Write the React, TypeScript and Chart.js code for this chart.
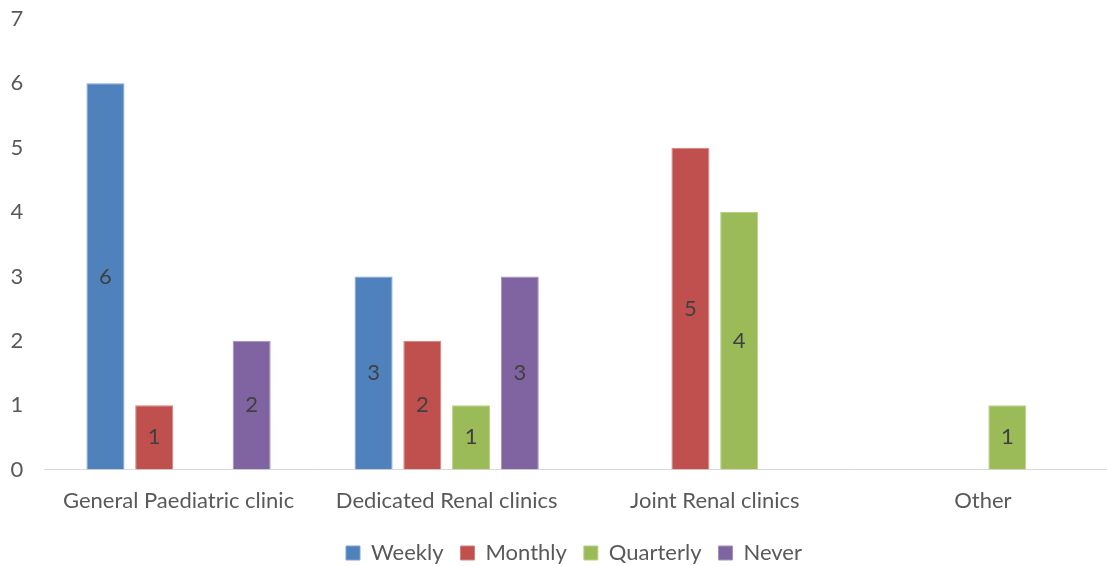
import React, { useEffect, useRef } from "react";
import { Chart, registerables, Plugin } from "chart.js";

Chart.register(...registerables);

const categories = [
  "General Paediatric clinic",
  "Dedicated Renal clinics",
  "Joint Renal clinics",
  "Other",
];

const weekly: (number | null)[] = [6, 3, null, null];
const monthly: (number | null)[] = [1, 2, 5, null];
const quarterly: (number | null)[] = [null, 1, 4, 1];
const never: (number | null)[] = [2, 3, null, null];

const yMin = 0;
const yMax = 7;
const yStep = 1;

const FONT = "Lato, 'Open Sans', sans-serif";
const FONT_SIZE = 22;

// Writes each bar's value in the middle of the bar
const barValueLabels: Plugin<"bar"> = {
  id: "barValueLabels",
  afterDatasetsDraw(chart) {
    const ctx = chart.ctx;
    ctx.save();
    ctx.font = `${FONT_SIZE}px ${FONT}`;
    ctx.fillStyle = "#404040";
    ctx.textAlign = "center";
    ctx.textBaseline = "middle";
    chart.data.datasets.forEach((ds, di) => {
      const meta = chart.getDatasetMeta(di);
      if (meta.hidden) return;
      meta.data.forEach((el: any, i) => {
        const v = ds.data[i] as number | null;
        if (v === null || v === undefined) return;
        const { x, y, base } = el.getProps(["x", "y", "base"], true);
        ctx.fillText(String(v), x, (y + base) / 2);
      });
    });
    ctx.restore();
  },
};

function series(label: string, data: (number | null)[], fill: string, edge: string) {
  return {
    label,
    data,
    backgroundColor: fill,
    borderColor: edge,
    borderWidth: 1,
    categoryPercentage: 0.727,
    barPercentage: 0.78,
  };
}

export default function App() {
  const canvasRef = useRef<HTMLCanvasElement | null>(null);

  useEffect(() => {
    if (!canvasRef.current) return;
    const chart = new Chart(canvasRef.current, {
      type: "bar",
      data: {
        labels: categories,
        datasets: [
          series("Weekly", weekly, "#4F81BD", "#7fa3d1"),
          series("Monthly", monthly, "#C0504D", "#d4817e"),
          series("Quarterly", quarterly, "#9BBB59", "#b8d186"),
          series("Never", never, "#8064A2", "#a390bd"),
        ],
      },
      options: {
        responsive: false,
        animation: false,
        layout: { padding: { left: 31, top: 19, right: 0, bottom: 0 } },
        plugins: {
          tooltip: { enabled: false },
          legend: {
            position: "bottom",
            labels: {
              boxWidth: 14,
              boxHeight: 14,
              padding: 17,
              color: "#595959",
              font: { family: FONT, size: FONT_SIZE },
            },
          },
        },
        scales: {
          x: {
            grid: { display: false, drawTicks: false },
            border: { display: true, color: "#D9D9D9", width: 1 },
            ticks: {
              color: "#595959",
              font: { family: FONT, size: FONT_SIZE },
              padding: 18,
              maxRotation: 0,
              autoSkip: false,
            },
            afterFit(scale) {
              scale.height = 55.5;
            },
          },
          y: {
            min: yMin,
            max: yMax,
            grid: { display: false, drawTicks: false },
            border: { display: false },
            ticks: {
              stepSize: yStep,
              color: "#595959",
              font: { family: FONT, size: FONT_SIZE },
              mirror: true,
              padding: -34,
            },
            afterFit(scale) {
              scale.width = 13.5;
              scale.paddingTop = 0;
              scale.paddingBottom = 0;
            },
          },
        },
      },
      plugins: [barValueLabels],
    });
    return () => chart.destroy();
  }, []);

  return (
    <div style={{ position: "fixed", left: 0, top: 0, right: 0, bottom: 0, overflow: "hidden", background: "#fff" }}>
      <canvas
        ref={canvasRef}
        width={1117}
        height={574}
        style={{ display: "block", width: 1117, height: 574 }}
      />
    </div>
  );
}
